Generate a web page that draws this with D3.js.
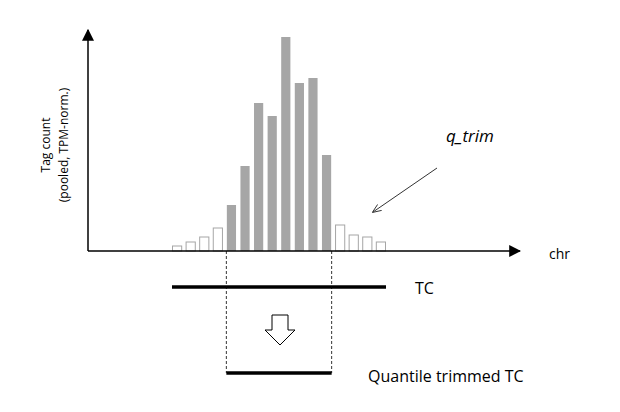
<!DOCTYPE html>
<html><head><meta charset="utf-8">
<script src="https://cdn.jsdelivr.net/npm/d3@7"></script>
<style>body{margin:0;background:#fff}text{font-family:"Open Sans",sans-serif}</style>
</head><body><svg id="c" width="620" height="412"></svg>
<script>
// bar heights (pixels above baseline ~ tag count)
const counts = [5, 9, 14, 23, 46, 85, 148, 135, 214, 168, 173, 96, 26, 16, 14, 9];
const kept = [false, false, false, false, true, true, true, true, true, true, true, true, false, false, false, false];

const svg = d3.select("#c");
const x = d3.scaleBand().domain(d3.range(counts.length)).range([172, 386]).paddingInner(0.25);
const y = d3.scaleLinear().domain([0, 214]).range([251, 37]);

svg.append("defs").append("marker").attr("id", "ah").attr("viewBox", "0 0 10 10")
    .attr("refX", 9).attr("refY", 5).attr("markerWidth", 8).attr("markerHeight", 8)
    .attr("orient", "auto-start-reverse")
    .append("path").attr("d", "M0,0L10,5L0,10z").attr("fill", "#000");
svg.append("marker").attr("id", "ah2").attr("viewBox", "0 0 10 10")
    .attr("refX", 9).attr("refY", 5).attr("markerWidth", 9).attr("markerHeight", 9)
    .attr("orient", "auto")
    .append("path").attr("d", "M0,1L10,5L0,9").attr("fill", "none").attr("stroke", "#333");

svg.selectAll("rect.bar").data(counts).enter().append("rect")
    .attr("x", (d, i) => x(i) + 0.5).attr("width", x.bandwidth() - 1)
    .attr("y", d => y(d)).attr("height", d => y(0) - y(d))
    .attr("fill", (d, i) => kept[i] ? "#a6a6a6" : "#fff")
    .attr("stroke", (d, i) => kept[i] ? "none" : "#a6a6a6").attr("stroke-width", 1);

// axes
svg.append("line").attr("x1", 88).attr("y1", 251).attr("x2", 520).attr("y2", 251)
    .attr("stroke", "#000").attr("stroke-width", 1.5).attr("marker-end", "url(#ah)");
svg.append("line").attr("x1", 88).attr("y1", 251).attr("x2", 88).attr("y2", 30)
    .attr("stroke", "#000").attr("stroke-width", 1.5).attr("marker-end", "url(#ah)");
svg.append("text").attr("x", 549).attr("y", 259).attr("font-size", 14).text("chr");
svg.append("text").attr("transform", "translate(50,145) rotate(-90)").attr("text-anchor", "middle")
    .attr("font-size", 12).text("Tag count");
svg.append("text").attr("transform", "translate(68,145) rotate(-90)").attr("text-anchor", "middle")
    .attr("font-size", 12).text("(pooled, TPM-norm.)");

// trimming bounds
const left = x(4), right = x(11) + x.bandwidth();
[left, right].forEach(v => svg.append("line").attr("x1", v).attr("x2", v).attr("y1", 251).attr("y2", 373)
    .attr("stroke", "#000").attr("stroke-dasharray", "3,2").attr("stroke-width", 0.8));

svg.append("line").attr("x1", x(0)).attr("x2", x(15) + x.bandwidth()).attr("y1", 287).attr("y2", 287)
    .attr("stroke", "#000").attr("stroke-width", 3.5);
svg.append("text").attr("x", 415).attr("y", 294).attr("font-size", 16).text("TC");
svg.append("line").attr("x1", left).attr("x2", right).attr("y1", 373).attr("y2", 373)
    .attr("stroke", "#000").attr("stroke-width", 3.5);
svg.append("text").attr("x", 368).attr("y", 382).attr("font-size", 16).text("Quantile trimmed TC");

// hollow down arrow
svg.append("path").attr("d", "M272,315H288V330H295L280,345L265,330H272Z")
    .attr("fill", "#fff").attr("stroke", "#000").attr("stroke-width", 1);

svg.append("text").attr("x", 446).attr("y", 142).attr("font-size", 17).attr("font-style", "italic").text("q_trim");
svg.append("line").attr("x1", 437).attr("y1", 168).attr("x2", 373).attr("y2", 212)
    .attr("stroke", "#333").attr("stroke-width", 1).attr("marker-end", "url(#ah2)");
</script></body></html>
